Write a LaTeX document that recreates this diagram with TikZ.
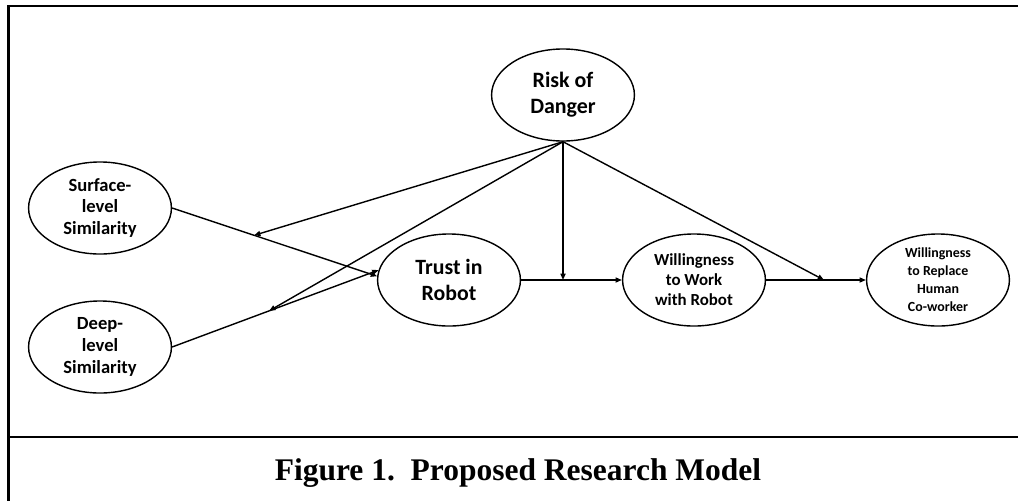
\documentclass[tikz,border=0pt]{standalone}
\usepackage{fontspec}
\setmainfont{Carlito}
\newfontfamily\capfont{Liberation Serif}
\usetikzlibrary{shapes.geometric,arrows.meta,calc}
\tikzset{
  construct/.style={draw,ellipse,line width=1pt,inner sep=0pt,align=center,
    minimum width=3.57cm,minimum height=2.3cm,font=\bfseries},
  path/.style={line width=1pt,-{Triangle[length=4.5pt,width=3.6pt]}},
  frame/.style={line width=1.7pt}
}
\begin{document}
\begin{tikzpicture}[x=0.025cm,y=-0.025cm]
    \useasboundingbox (0,0) rectangle (1018,501);
    % frame and caption
    \draw[frame] (1018,6) -- (8.5,6) -- (8.5,501);
    \draw[frame] (8.5,437) -- (1018,437);
    \node[anchor=base,font=\capfont\bfseries\fontsize{22.4}{26}\selectfont] (caption) at (518,480) {Figure 1.\ \ Proposed Research Model};
    % constructs
    \node[construct,font=\bfseries\fontsize{15.6}{18.5}\selectfont] (risk) at (563,95) {Risk of\\Danger};
    \node[construct,font=\bfseries\fontsize{13.2}{15.6}\selectfont] (surf) at (100,208) {Surface-\\level\\Similarity};
    \node[construct,font=\bfseries\fontsize{13.2}{15.6}\selectfont] (deep) at (100,347) {Deep-\\level\\Similarity};
    \node[construct,font=\bfseries\fontsize{15.5}{19}\selectfont] (trust) at (449,280) {Trust in\\Robot};
    \node[construct,font=\bfseries\fontsize{12}{14.2}\selectfont] (work) at (694,280) {Willingness\\to Work\\with Robot};
    \node[construct,font=\bfseries\fontsize{9.9}{12.8}\selectfont] (replace) at (938,280) {Willingness\\to Replace\\Human\\Co-worker};
    % main paths
    \draw[path] (surf.east) -- (trust.177);
    \draw[path] (deep.east) -- (trust.172);
    \draw[path] (trust.east) -- (work.west);
    \draw[path] (work.east) -- (replace.west);
    % moderation by risk
    \coordinate (modsurf) at ($(surf.east)!0.4!(trust.177)$);
    \coordinate (moddeep) at ($(deep.east)!0.47!(trust.172)$);
    \coordinate (modtrust) at (risk.south |- trust.east);
    \coordinate (modwork) at ($(work.east)!0.58!(replace.west)$);
    \draw[path] (risk.south) -- (modsurf);
    \draw[path] (risk.south) -- (moddeep);
    \draw[path] (risk.south) -- (modtrust);
    \draw[path] (risk.south) -- (modwork);
\end{tikzpicture}
\end{document}
